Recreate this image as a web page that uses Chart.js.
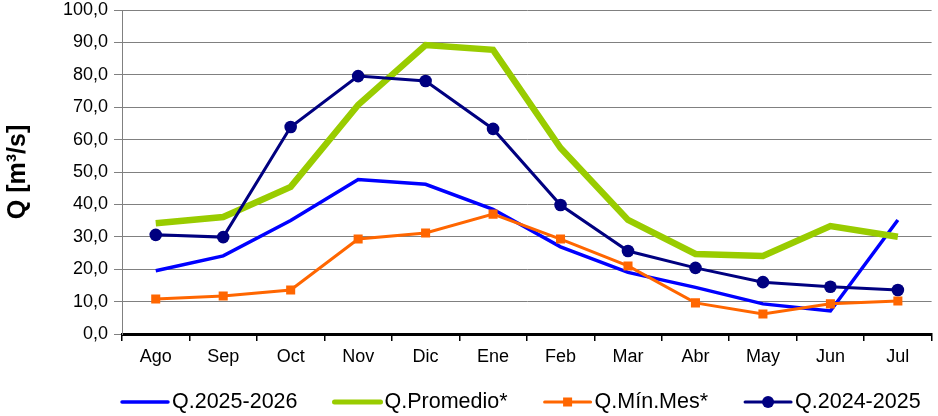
<!DOCTYPE html>
<html>
  <head>
    <title>Caudal Q</title>
    <meta charset="utf-8">
    <script src="https://cdn.jsdelivr.net/npm/chart.js@4.4.1/dist/chart.umd.min.js"></script>
  <style>
    body {
        margin: 0;
        background: #ffffff;
    }
  </style>
  </head>
  <body>
      <canvas id="myChart" width="938" height="416"></canvas>

      <script>
        var meses    = ['Ago','Sep','Oct','Nov','Dic','Ene','Feb','Mar','Abr','May','Jun','Jul'];
        var q2526    = [19.5, 24.1, 35.0, 47.7, 46.2, 38.5, 26.9, 19.0, 14.4, 9.3, 7.1, 35.2];
        var qProm    = [34.2, 36.1, 45.4, 70.7, 89.2, 87.7, 57.4, 35.2, 24.7, 24.1, 33.3, 30.0];
        var qMin     = [10.8, 11.7, 13.6, 29.3, 31.2, 37.0, 29.3, 21.0, 9.6, 6.2, 9.3, 10.2];
        var q2425    = [30.6, 29.9, 63.9, 79.6, 78.1, 63.3, 39.8, 25.6, 20.4, 16.0, 14.6, 13.6];

        var fuente = '"Liberation Sans", Arial, sans-serif';

        // legend drawn like the Excel one: line sample + marker + text
        var excelLegend = {
            id: 'excelLegend',
            afterDraw: function(chart) {
                var ctx = chart.ctx;
                var x = chart.chartArea.left;
                var y = 402;
                ctx.save();
                ctx.font = '21.5px ' + fuente;
                ctx.textBaseline = 'middle';
                ctx.fillStyle = '#000000';
                chart.data.datasets.forEach(function(ds) {
                    ctx.strokeStyle = ds.borderColor;
                    ctx.lineWidth = Math.min(ds.borderWidth, 5);
                    ctx.lineCap = 'round';
                    ctx.beginPath();
                    ctx.moveTo(x, y);
                    ctx.lineTo(x + 46, y);
                    ctx.stroke();
                    if (ds.pointRadius > 0) {
                        ctx.fillStyle = ds.borderColor;
                        if (ds.pointStyle === 'rect') {
                            ctx.fillRect(x + 23 - 4.5, y - 4.5, 9, 9);
                        } else {
                            ctx.beginPath();
                            ctx.arc(x + 23, y, 6, 0, Math.PI * 2);
                            ctx.fill();
                        }
                        ctx.fillStyle = '#000000';
                    }
                    ctx.fillText(ds.label, x + 50, y);
                    x += 50 + ctx.measureText(ds.label).width + 37;
                });
                ctx.restore();
            }
        };

        var ctx = document.getElementById('myChart').getContext('2d');

        var myLineChart = new Chart(ctx, {
            type: 'line',
            data: {
                labels: meses,
                datasets: [{
                    label: 'Q.2025-2026',
                    data: q2526,
                    borderColor: '#0000FF',
                    borderWidth: 3.5,
                    pointRadius: 0,
                    order: 4
                }, {
                    label: 'Q.Promedio*',
                    data: qProm,
                    borderColor: '#99CC00',
                    borderWidth: 6.5,
                    pointRadius: 0,
                    order: 3
                }, {
                    label: 'Q.Mín.Mes*',
                    data: qMin,
                    borderColor: '#FF6600',
                    backgroundColor: '#FF6600',
                    borderWidth: 3,
                    pointStyle: 'rect',
                    pointRadius: 6.4,
                    pointBorderWidth: 0,
                    order: 2
                }, {
                    label: 'Q.2024-2025',
                    data: q2425,
                    borderColor: '#000080',
                    backgroundColor: '#000080',
                    borderWidth: 3,
                    pointStyle: 'circle',
                    pointRadius: 6.3,
                    pointBorderWidth: 0,
                    order: 1
                }]
            },
            options: {
                responsive: false,
                animation: false,
                layout: { padding: { top: 10, right: 6, bottom: 42, left: 0 } },
                plugins: {
                    legend: { display: false },
                    tooltip: { enabled: false }
                },
                elements: { line: { tension: 0 } },
                scales: {
                    x: {
                        offset: true,
                        grid: {
                            offset: true,
                            drawOnChartArea: false,
                            color: '#000000',
                            lineWidth: 1.5,
                            tickLength: 7
                        },
                        border: { color: '#000000', width: 3 },
                        ticks: {
                            color: '#000000',
                            font: { family: fuente, size: 18 },
                            padding: 5,
                            maxRotation: 0
                        },
                        afterFit: function(scale) { scale.height = 40; }
                    },
                    y: {
                        min: 0,
                        max: 100,
                        grid: { color: '#808080', lineWidth: 1, tickLength: 8 },
                        border: { color: '#808080', width: 1 },
                        ticks: {
                            stepSize: 10,
                            color: '#000000',
                            font: { family: fuente, size: 18 },
                            padding: 6,
                            callback: function(v) { return v.toFixed(1).replace('.', ','); }
                        },
                        title: {
                            display: true,
                            text: 'Q [m³/s]',
                            color: '#000000',
                            font: { family: fuente, size: 25, weight: 'bold' },
                            padding: { top: 3, bottom: 0 }
                        },
                        afterFit: function(scale) {
                            scale.width = 122;
                            scale.paddingTop = 0;
                            scale.paddingBottom = 0;
                        }
                    }
                }
            },
            plugins: [excelLegend]
        });
      </script>
  </body>
</html>
